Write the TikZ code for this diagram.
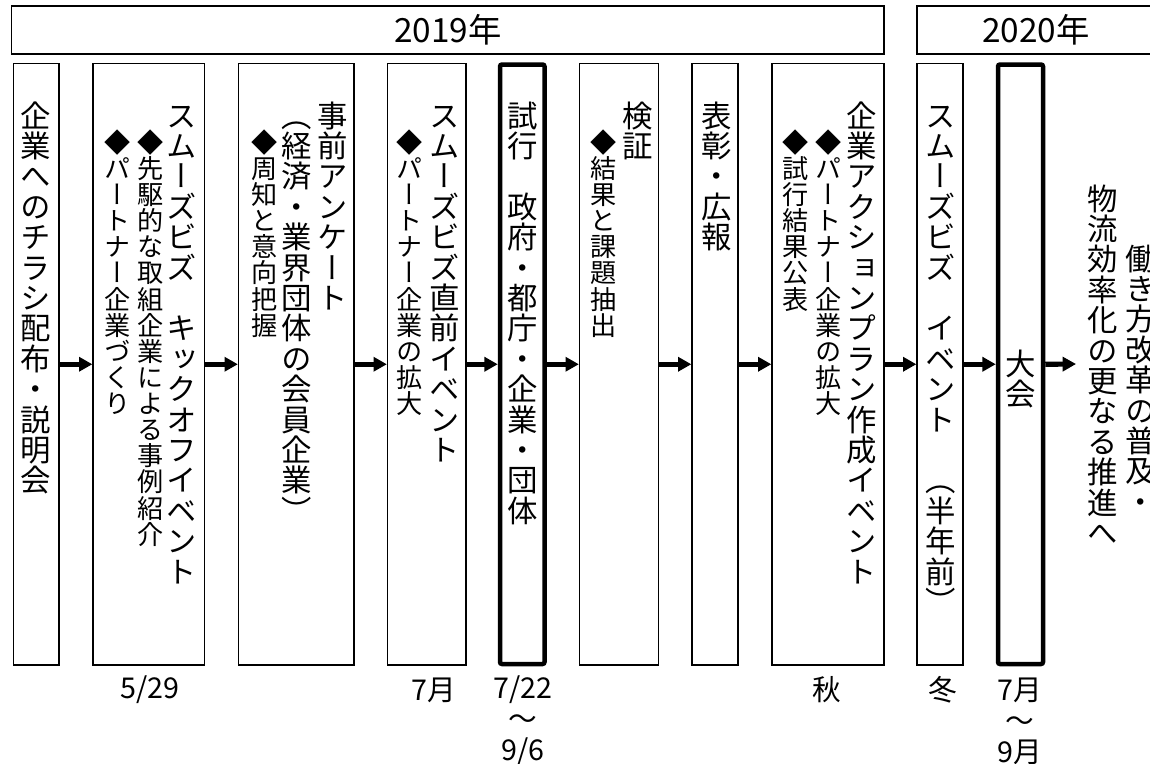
\documentclass[tikz,border=0pt]{standalone}
\usepackage{fontspec}
\usetikzlibrary{arrows.meta}
\newfontfamily\jpv[RawFeature=+vert]{Noto Sans CJK JP}
\newfontfamily\jph{Noto Sans CJK JP}
\newcommand\fbig{\jpv\fontsize{22.8pt}{22.8pt}\selectfont}
\newcommand\fsmall{\jpv\fontsize{19.6pt}{19.6pt}\selectfont}
\newcommand\fdate{\jph\fontsize{21.5pt}{23.25pt}\selectfont}
\newcommand\fyear{\jph\fontsize{25pt}{25pt}\selectfont}
\makeatletter
\def\vst@end{\vst@end}
\newcommand\vs[1]{\vtop{\offinterlineskip\vst@loop#1\vst@end}}
\def\vst@loop#1{\ifx#1\vst@end\else\hbox to 1em{\vrule height 0.88em depth 0.12em width 0pt\hss#1\hss}\expandafter\vst@loop\fi}
\makeatother
\newcommand\bx[6]{\node[#6, minimum width={(#3-#2)*0.75pt}, minimum height={(#5-#4)*0.75pt}] (#1) at ({(#2+#3)/2},{(#4+#5)/2}) {};}
\tikzset{
  thinbox/.style={draw=black, line width=1.3pt*0.75, inner sep=0pt},
  thickbox/.style={draw=black, line width=4.5pt*0.75, rounded corners=1.5pt, inner sep=0pt},
  vbig/.style={font=\fbig, anchor=north, inner sep=0pt},
  vsmall/.style={font=\fsmall, anchor=north, inner sep=0pt},
  datelbl/.style={font=\fdate, align=center, inner sep=0pt},
  yearlbl/.style={font=\fyear, inner sep=0pt},
  flowarrow/.style={line width=3.9pt, -{Triangle[length=10pt,width=10.5pt]}}
}
\begin{document}
\begin{tikzpicture}[x=0.75pt, y=-0.75pt]
\clip (0,0) rectangle (1150,764);
\fill[white] (0,0) rectangle (1150,764);
% year boxes
\bx{y19}{11.5}{884}{6}{54}{thinbox}
\bx{y20}{917}{1155}{6}{54}{thinbox}
\node[yearlbl] (y19t) at (y19.center) {2019年};
\node[yearlbl] (y20t) at (1036,30) {2020年};
% step boxes
\bx{b1}{13.5}{59}{63.5}{665}{thinbox}
\bx{b2}{93}{204.5}{63.5}{665}{thinbox}
\bx{b3}{238.5}{354}{63.5}{665}{thinbox}
\bx{b4}{387.5}{466}{63.5}{665}{thinbox}
\bx{b5}{500}{544.5}{64.5}{664}{thickbox}
\bx{b6}{579.5}{658.5}{63.5}{665}{thinbox}
\bx{b7}{692}{738}{63.5}{665}{thinbox}
\bx{b8}{772}{884}{63.5}{665}{thinbox}
\bx{b9}{917}{963}{63.5}{665}{thinbox}
\bx{b10}{998}{1043}{64.5}{664}{thickbox}
% texts
\node[vbig] (t1) at (36,100) {\vs{企業へのチラシ配布・説明会}};
\node[vbig] (t2a) at (182,100) {\vs{スムーズビズ　キックオフイベント}};
\node[vsmall] (t2b) at (151,129) {\vs{◆先駆的な取組企業による事例紹介}};
\node[vsmall] (t2c) at (117.5,129) {\vs{◆パートナー企業づくり}};
\node[vbig] (t3a) at (333,100) {\vs{事前アンケート}};
\node[vbig] (t3b) at (297,100) {\vs{（経済・業界団体の会員企業）}};
\node[vsmall] (t3c) at (265,129) {\vs{◆周知と意向把握}};
\node[vbig] (t4a) at (445,100) {\vs{スムーズビズ直前イベント}};
\node[vsmall] (t4b) at (410,129) {\vs{◆パートナー企業の拡大}};
\node[vbig] (t5) at (523,100) {\vs{試行　政府・都庁・企業・団体}};
\node[vbig] (t6a) at (638,100) {\vs{検証}};
\node[vsmall] (t6b) at (604,129) {\vs{◆結果と課題抽出}};
\node[vbig] (t7) at (717,100) {\vs{表彰・広報}};
\node[vbig] (t8a) at (862,100) {\vs{企業アクションプラン作成イベント}};
\node[vsmall] (t8b) at (829,129) {\vs{◆パートナー企業の拡大}};
\node[vsmall] (t8c) at (796,129) {\vs{◆試行結果公表}};
\node[vbig] (t9) at (941,100) {\vs{スムーズビズ　イベント　（半年前）}};
\node[vbig] (t10) at (1021,348) {\vs{大会}};
\node[vbig] (r1) at (1103,183) {\vs{物流効率化の更なる推進へ}};
\node[vbig] (r2) at (1141,243) {\vs{働き方改革の普及・}};
% dates
\node[datelbl] (d2) at (150,690) {5/29};
\node[datelbl] (d4) at (434,690) {7月};
\node[datelbl] (d5) at (523,721) {7/22\\～\\9/6};
\node[datelbl] (d8) at (827,690) {秋};
\node[datelbl] (d9) at (943,690) {冬};
\node[datelbl] (d10) at (1020,721) {7月\\～\\9月};
% arrows
\coordinate (goal) at (1076,364);
\draw[flowarrow] (b1.east) -- (b2.west);
\draw[flowarrow] (b2.east) -- (b3.west);
\draw[flowarrow] (b3.east) -- (b4.west);
\draw[flowarrow] (b4.east) -- (b5.west);
\draw[flowarrow] (b5.east) -- (b6.west);
\draw[flowarrow] (b6.east) -- (b7.west);
\draw[flowarrow] (b7.east) -- (b8.west);
\draw[flowarrow] (b8.east) -- (b9.west);
\draw[flowarrow] (b9.east) -- (b10.west);
\draw[flowarrow] (b10.east) -- (goal);
\end{tikzpicture}
\end{document}
